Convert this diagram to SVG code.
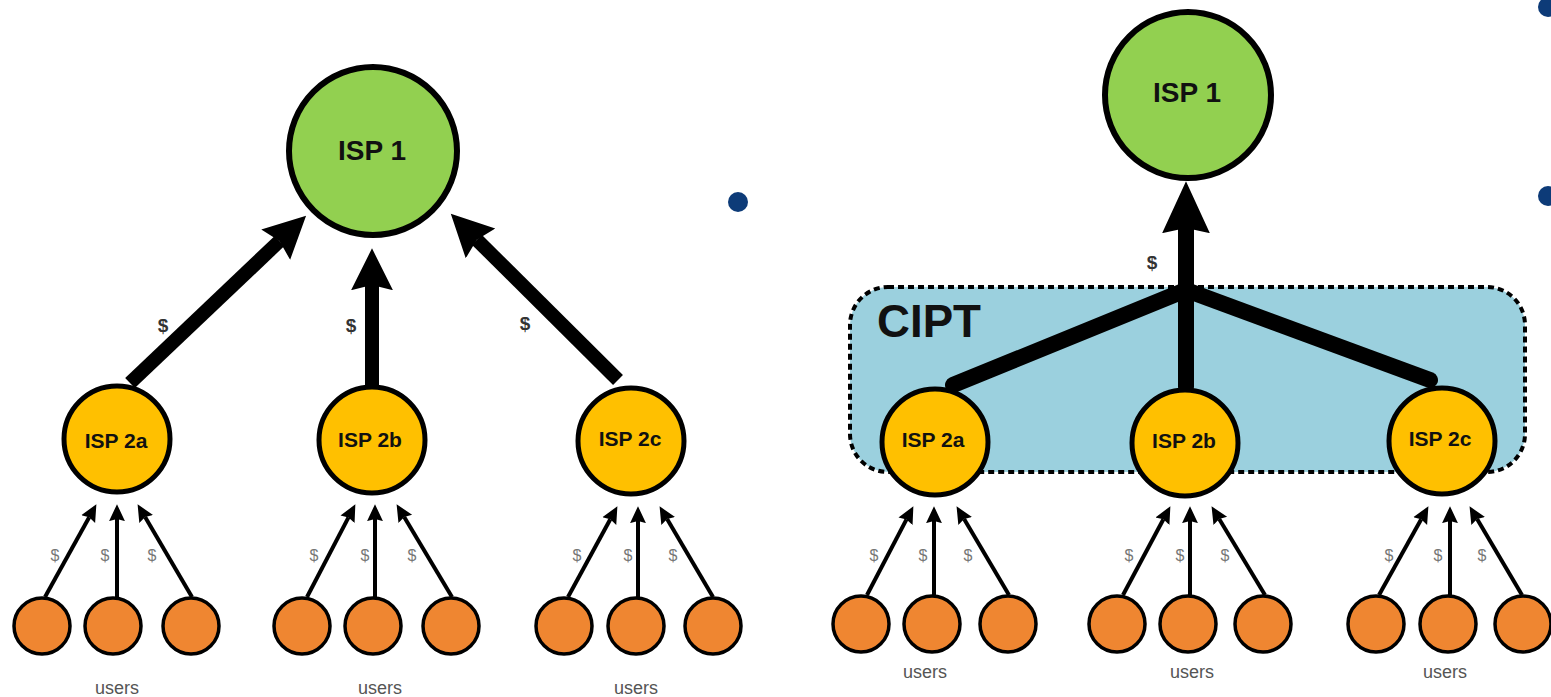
<svg xmlns="http://www.w3.org/2000/svg" width="1551" height="697" viewBox="0 0 1551 697">
<style>
.isp1{fill:#92d050;stroke:#000;stroke-width:6}
.isp2{fill:#ffc000;stroke:#000;stroke-width:5}
.user{fill:#ef8631;stroke:#000;stroke-width:3.5}
.lbl{font-family:"Liberation Sans",Arial,sans-serif;font-weight:bold;fill:#111;text-anchor:middle}
.big{stroke:#000;stroke-width:14;fill:none}
.trunk{stroke:#000;stroke-width:16;fill:none;stroke-linecap:round}
.small{stroke:#000;stroke-width:4;fill:none}
.d1{font-family:"Liberation Sans",Arial,sans-serif;font-weight:bold;font-size:19px;fill:#333;text-anchor:middle}
.d2{font-family:"Liberation Sans",Arial,sans-serif;font-size:16px;fill:#777;text-anchor:middle}
.users{font-family:"Liberation Sans",Arial,sans-serif;font-size:18px;fill:#555;text-anchor:middle}
.dot{fill:#0d3b78}
</style>
<defs>
<marker id="hb" markerUnits="userSpaceOnUse" markerWidth="44" markerHeight="44" viewBox="0 -21 42 42" refX="5" refY="0" orient="auto"><path d="M0,-20 L40,0 L0,20 L5,0 Z" fill="#000"/></marker>
<marker id="hr" markerUnits="userSpaceOnUse" markerWidth="54" markerHeight="50" viewBox="0 -24 52 48" refX="5" refY="0" orient="auto"><path d="M0,-23 L50,0 L0,23 L5,0 Z" fill="#000"/></marker>
<marker id="hs" markerUnits="userSpaceOnUse" markerWidth="18" markerHeight="18" viewBox="0 -8 17 16" refX="2" refY="0" orient="auto"><path d="M0,-7.5 L16,0 L0,7.5 L2,0 Z" fill="#000"/></marker>
</defs>

<!-- bullets -->
<g id="bullets">
<circle class="dot" cx="738" cy="202" r="10"/>
<circle class="dot" cx="1548" cy="7" r="10"/>
<circle class="dot" cx="1548" cy="196" r="10"/>
</g>

<!-- CIPT box -->
<g id="cipt">
<rect x="850" y="287" width="675" height="185" rx="38" ry="38" fill="#9bd0de" stroke="#000" stroke-width="4" stroke-dasharray="6 4"/>
<text x="929" y="337" class="lbl" style="font-size:46px" textLength="104" lengthAdjust="spacingAndGlyphs">CIPT</text>
</g>

<!-- connectors -->
<g id="connectors">
<line class="big" x1="130" y1="383" x2="279.5" y2="241" marker-end="url(#hb)"/>
<line class="big" x1="372" y1="385" x2="372" y2="285" marker-end="url(#hb)"/>
<line class="big" x1="618" y1="380" x2="476.8" y2="239.7" marker-end="url(#hb)"/>
<line class="big" x1="1186" y1="292" x2="1186" y2="228" style="stroke-width:16" marker-end="url(#hr)"/>
<line class="trunk" x1="1186" y1="290" x2="953" y2="385"/>
<line class="trunk" x1="1186" y1="290" x2="1186" y2="387"/>
<line class="trunk" x1="1186" y1="290" x2="1430" y2="380"/>

<line class="small" x1="45" y1="597" x2="89.2" y2="517.2" marker-end="url(#hs)"/>
<line class="small" x1="117" y1="597" x2="117" y2="519" marker-end="url(#hs)"/>
<line class="small" x1="192" y1="597" x2="145.1" y2="517.1" marker-end="url(#hs)"/>
<line class="small" x1="307" y1="597" x2="348.5" y2="517.4" marker-end="url(#hs)"/>
<line class="small" x1="375" y1="597" x2="375" y2="519" marker-end="url(#hs)"/>
<line class="small" x1="452" y1="597" x2="404.2" y2="517" marker-end="url(#hs)"/>
<line class="small" x1="568" y1="597" x2="610.3" y2="519.3" marker-end="url(#hs)"/>
<line class="small" x1="638" y1="597" x2="638" y2="521" marker-end="url(#hs)"/>
<line class="small" x1="713" y1="597" x2="667.1" y2="519.1" marker-end="url(#hs)"/>

<line class="small" x1="867" y1="595" x2="906.5" y2="519.4" marker-end="url(#hs)"/>
<line class="small" x1="934" y1="595" x2="934" y2="521" marker-end="url(#hs)"/>
<line class="small" x1="1009" y1="595" x2="964.1" y2="519.1" marker-end="url(#hs)"/>
<line class="small" x1="1123" y1="595" x2="1163.4" y2="519.3" marker-end="url(#hs)"/>
<line class="small" x1="1190" y1="595" x2="1190" y2="521" marker-end="url(#hs)"/>
<line class="small" x1="1265" y1="595" x2="1219.2" y2="519" marker-end="url(#hs)"/>
<line class="small" x1="1379" y1="595" x2="1421.2" y2="519.2" marker-end="url(#hs)"/>
<line class="small" x1="1450" y1="595" x2="1450" y2="521" marker-end="url(#hs)"/>
<line class="small" x1="1522" y1="595" x2="1477.1" y2="519.1" marker-end="url(#hs)"/>

<text class="d1" x="163" y="332">$</text>
<text class="d1" x="351" y="332">$</text>
<text class="d1" x="525" y="330">$</text>
<text class="d1" x="1152" y="269">$</text>

<text class="d2" x="55" y="561">$</text>
<text class="d2" x="105" y="561">$</text>
<text class="d2" x="152" y="561">$</text>
<text class="d2" x="314" y="561">$</text>
<text class="d2" x="365" y="561">$</text>
<text class="d2" x="412" y="561">$</text>
<text class="d2" x="577" y="561">$</text>
<text class="d2" x="628" y="561">$</text>
<text class="d2" x="673" y="561">$</text>
<text class="d2" x="874" y="561">$</text>
<text class="d2" x="923" y="561">$</text>
<text class="d2" x="968" y="561">$</text>
<text class="d2" x="1129" y="561">$</text>
<text class="d2" x="1180" y="561">$</text>
<text class="d2" x="1225" y="561">$</text>
<text class="d2" x="1389" y="561">$</text>
<text class="d2" x="1438" y="561">$</text>
<text class="d2" x="1482" y="561">$</text>
</g>

<!-- left tree -->
<g id="isp1-left"><circle class="isp1" cx="373" cy="151" r="84"/><text class="lbl" x="372" y="160" style="font-size:28px">ISP 1</text></g>
<g id="isp2a-left"><circle class="isp2" cx="117" cy="439" r="53"/><text class="lbl" x="116" y="448" style="font-size:21px">ISP 2a</text></g>
<g id="isp2b-left"><circle class="isp2" cx="372" cy="440" r="53"/><text class="lbl" x="370" y="447" style="font-size:21px">ISP 2b</text></g>
<g id="isp2c-left"><circle class="isp2" cx="631" cy="441" r="53"/><text class="lbl" x="630" y="446" style="font-size:21px">ISP 2c</text></g>

<g id="users-a-left"><circle class="user" cx="42" cy="626" r="28"/><circle class="user" cx="113" cy="626" r="28"/><circle class="user" cx="191" cy="626" r="28"/><text class="users" x="117" y="694">users</text></g>
<g id="users-b-left"><circle class="user" cx="302" cy="626" r="28"/><circle class="user" cx="373" cy="626" r="28"/><circle class="user" cx="451" cy="626" r="28"/><text class="users" x="380" y="694">users</text></g>
<g id="users-c-left"><circle class="user" cx="564" cy="626" r="28"/><circle class="user" cx="636" cy="626" r="28"/><circle class="user" cx="713" cy="626" r="28"/><text class="users" x="636" y="694">users</text></g>

<!-- right tree -->
<g id="isp1-right"><circle class="isp1" cx="1188" cy="95" r="83"/><text class="lbl" x="1187" y="102" style="font-size:28px">ISP 1</text></g>
<g id="isp2a-right"><circle class="isp2" cx="935" cy="442" r="53"/><text class="lbl" x="933" y="447" style="font-size:21px">ISP 2a</text></g>
<g id="isp2b-right"><circle class="isp2" cx="1185" cy="443" r="53"/><text class="lbl" x="1184" y="448" style="font-size:21px">ISP 2b</text></g>
<g id="isp2c-right"><circle class="isp2" cx="1442" cy="441" r="53"/><text class="lbl" x="1440" y="446" style="font-size:21px">ISP 2c</text></g>

<g id="users-a-right"><circle class="user" cx="861" cy="624" r="28"/><circle class="user" cx="932" cy="624" r="28"/><circle class="user" cx="1008" cy="624" r="28"/><text class="users" x="925" y="678">users</text></g>
<g id="users-b-right"><circle class="user" cx="1117" cy="624" r="28"/><circle class="user" cx="1188" cy="624" r="28"/><circle class="user" cx="1263" cy="624" r="28"/><text class="users" x="1192" y="678">users</text></g>
<g id="users-c-right"><circle class="user" cx="1376" cy="624" r="28"/><circle class="user" cx="1448" cy="624" r="28"/><circle class="user" cx="1523" cy="624" r="28"/><text class="users" x="1445" y="678">users</text></g>
</svg>
